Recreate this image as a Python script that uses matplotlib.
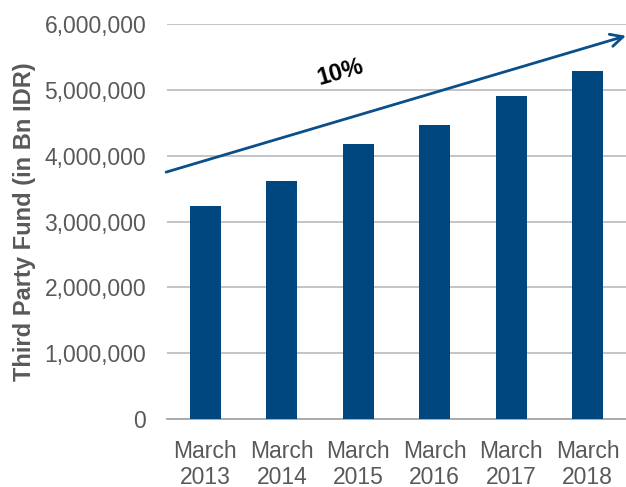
import matplotlib.pyplot as plt
import matplotlib.ticker as mticker

# data
years = ["March\n2013", "March\n2014", "March\n2015", "March\n2016", "March\n2017", "March\n2018"]
fund = [3237000, 3610000, 4180000, 4460000, 4900000, 5280000]
yticks = [0, 1000000, 2000000, 3000000, 4000000, 5000000, 6000000]
cagr_label = "10%"

plt.rcParams['font.family'] = ['Liberation Sans', 'DejaVu Sans']
bar_col = '#00467F'
grey = '#595959'

fig = plt.figure(figsize=(6.26, 4.87), dpi=100)
ax = fig.add_axes([167/626, 68/487, 459/626, 395/487])

x = list(range(len(years)))
ax.bar(x, fund, width=0.4, color=bar_col, zorder=3)

ax.set_xlim(-0.5, 5.5)
ax.set_ylim(0, 6000000)
ax.set_yticks(yticks)
ax.yaxis.set_major_formatter(mticker.FuncFormatter(lambda v, p: f"{int(v):,}"))
ax.set_xticks(x)
ax.set_xticklabels(years, linespacing=1.15)

ax.grid(axis='y', color='#BFBFBF', linewidth=1.3, zorder=0)
ax.set_axisbelow(True)
for s in ['left', 'right', 'top']:
    ax.spines[s].set_visible(False)
ax.spines['bottom'].set_color('#A6A6A6')
ax.spines['bottom'].set_linewidth(1.3)
ax.tick_params(axis='y', length=0, pad=15, labelsize=16.5, labelcolor=grey)
ax.tick_params(axis='x', length=0, pad=15, labelsize=16.5, labelcolor=grey)

ax.set_ylabel("Third Party Fund (in Bn IDR)", fontsize=17, fontweight='bold',
              color=grey, labelpad=6)

# growth arrow
ax.annotate("", xy=(1.0, 0.97), xytext=(-0.002, 0.625),
            xycoords='axes fraction', textcoords='axes fraction',
            arrowprops=dict(arrowstyle='->,head_length=0.9,head_width=0.45',
                            color='#0B4F8A', lw=2.0, shrinkA=0, shrinkB=0),
            annotation_clip=False, zorder=5)
ax.text(0.378, 0.878, cagr_label, transform=ax.transAxes, rotation=16,
        ha='center', va='center', fontsize=17, fontweight='bold', color='black')

fig.savefig("out.png", dpi=100)
